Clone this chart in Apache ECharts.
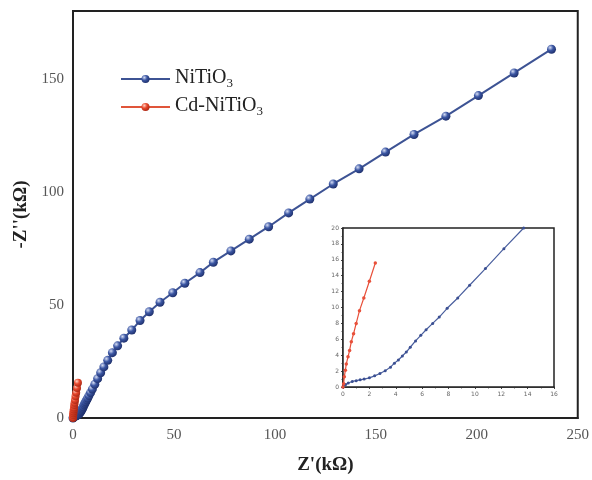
<!DOCTYPE html>
<html>
<head>
<meta charset="utf-8">
<script src="https://cdn.jsdelivr.net/npm/echarts@6/dist/echarts.min.js"></script>
<style>html,body{margin:0;padding:0;background:#fff}#c{width:592px;height:480px}</style>
</head>
<body>
<div id="c"></div>
<script>
// Data (Z' kΩ, -Z'' kΩ)
var seriesNames = ['NiTiO3', 'Cd-NiTiO3'];
var xTicksMain = [0, 50, 100, 150, 200, 250];
var yTicksMain = [0, 50, 100, 150];
var niTiO3 = [
  [0,0],[0.2,0.3],[0.4,0.5],[0.7,0.7],[1.0,0.8],[1.3,0.9],[1.6,1.0],[2.0,1.15],
  [2.4,1.4],[2.8,1.7],[3.2,2.05],[3.6,2.5],[3.9,3.0],[4.2,3.4],[4.5,3.9],[4.8,4.4],
  [5.1,5.0],[5.5,5.8],[5.9,6.5],[6.3,7.2],[6.8,8.0],[7.3,8.8],[7.9,9.9],[8.7,11.2],
  [9.6,12.8],[10.8,14.9],[12.2,17.4],[13.7,20.0],[15.3,22.6],[17.2,25.5],[19.5,28.9],
  [22.1,31.9],[25.2,35.3],[29.1,38.9],[33.2,43.1],[37.8,47.0],[43.1,51.2],[49.4,55.4],
  [55.4,59.6],[62.9,64.3],[69.5,68.9],[78.2,73.9],[87.3,79.1],[96.9,84.6],[106.8,90.7],
  [117.3,96.8],[128.9,103.5],[141.7,110.2],[154.8,117.6],[168.9,125.4],[184.7,133.5],
  [200.8,142.6],[218.5,152.6],[237.0,163.1]
];
var cdNiTiO3 = [
  [0,0],[0.05,0.4],[0.1,1.3],[0.18,2.1],[0.25,2.9],[0.38,3.8],[0.5,4.6],[0.63,5.7],
  [0.8,6.7],[1.0,8.0],[1.25,9.6],[1.58,11.2],[2.0,13.3],[2.45,15.6]
];

var serif = 'Liberation Serif';
function ball(c1, c2, c3) {
  return {type:'radial', x:0.35, y:0.32, r:0.75, colorStops:[
    {offset:0, color:c1},{offset:0.45, color:c2},{offset:1, color:c3}]};
}
var blueBall = ball('#d6def5', '#3b56a3', '#1c2c66');
var redBall = ball('#ffd2c4', '#e8482c', '#a52412');

var chart = echarts.init(document.getElementById('c'));
chart.setOption({
  backgroundColor: '#fff',
  animation: false,
  legend: {
    left: 115, top: 63, orient: 'vertical', itemGap: 6,
    itemWidth: 49, itemHeight: 10,
    data: seriesNames,
    formatter: function (n) {
      return n === 'NiTiO3' ? '{n|NiTiO}{s|3}' : '{n|Cd-NiTiO}{s|3}';
    },
    textStyle: {
      rich: {
        n: {fontFamily: serif, fontSize: 20, color: '#222', lineHeight: 22, verticalAlign:'top'},
        s: {fontFamily: serif, fontSize: 13, color: '#222', lineHeight: 13, verticalAlign: 'top', padding: [9,0,0,0]}
      }
    }
  },
  grid: [
    {left: 73, right: 9, top: 11, bottom: 62, show: true, borderColor: '#222', borderWidth: 2},
    {left: 343, right: 38, top: 228, bottom: 93, show: true, borderColor: '#222', borderWidth: 1.5, backgroundColor:'#fff', z: 5}
  ],
  xAxis: [
    {
      type: 'value', gridIndex: 0, min: 0, max: 250, interval: 50,
      name: "Z'(kΩ)", nameLocation: 'middle', nameGap: 38,
      nameTextStyle: {fontFamily: serif, fontWeight: 'bold', fontSize: 19, color: '#222'},
      axisLine: {show: true, onZero: false, lineStyle: {color: '#222', width: 2}},
      axisTick: {show: false},
      splitLine: {show: false},
      axisLabel: {fontFamily: serif, fontSize: 15, color: '#555', margin: 10}
    },
    {
      type: 'value', gridIndex: 1, min: 0, max: 16, interval: 2,
      axisLine: {show: true, onZero: false, lineStyle: {color: '#222', width: 1.5}},
      axisTick: {show: true, length: 2, lineStyle: {color: '#444'}},
      minorTick: {show: true, splitNumber: 2, length: 1.5, lineStyle: {color: '#666'}},
      splitLine: {show: false},
      axisLabel: {fontFamily: 'DejaVu Sans', fontSize: 6, color: '#666', margin: 4}
    }
  ],
  yAxis: [
    {
      type: 'value', gridIndex: 0, min: 0, max: 180, interval: 50,
      name: "-Z''(kΩ)", nameLocation: 'middle', nameGap: 37,
      nameTextStyle: {fontFamily: serif, fontWeight: 'bold', fontSize: 19, color: '#222'},
      axisLine: {show: true, onZero: false, lineStyle: {color: '#222', width: 2}},
      axisTick: {show: false},
      splitLine: {show: false},
      axisLabel: {fontFamily: serif, fontSize: 15, color: '#555', margin: 9, showMaxLabel: false}
    },
    {
      type: 'value', gridIndex: 1, min: 0, max: 20, interval: 2,
      axisLine: {show: true, onZero: false, lineStyle: {color: '#222', width: 1.5}},
      axisTick: {show: true, length: 2, lineStyle: {color: '#444'}},
      minorTick: {show: true, splitNumber: 2, length: 1.5, lineStyle: {color: '#666'}},
      splitLine: {show: false},
      axisLabel: {fontFamily: 'DejaVu Sans', fontSize: 6, color: '#666', margin: 4}
    }
  ],
  series: [
    {
      name: 'NiTiO3', type: 'line', xAxisIndex: 0, yAxisIndex: 0, data: niTiO3,
      symbol: 'circle', symbolSize: 9, showAllSymbol: true,
      lineStyle: {color: '#3d5394', width: 2},
      itemStyle: {color: blueBall}
    },
    {
      name: 'Cd-NiTiO3', type: 'line', xAxisIndex: 0, yAxisIndex: 0, data: cdNiTiO3,
      symbol: 'circle', symbolSize: 8, showAllSymbol: true,
      lineStyle: {color: '#e0553a', width: 2},
      itemStyle: {color: redBall}
    },
    {
      name: 'NiTiO3', type: 'line', xAxisIndex: 1, yAxisIndex: 1, data: niTiO3, z: 6,
      symbol: 'circle', symbolSize: 3, showAllSymbol: true, clip: true,
      lineStyle: {color: '#4a5f9e', width: 1.2},
      itemStyle: {color: '#3b4f92'}
    },
    {
      name: 'Cd-NiTiO3', type: 'line', xAxisIndex: 1, yAxisIndex: 1, data: cdNiTiO3, z: 6,
      symbol: 'circle', symbolSize: 3.5, showAllSymbol: true, clip: true,
      lineStyle: {color: '#e8503a', width: 1.2},
      itemStyle: {color: '#e8503a'}
    }
  ]
});
</script>
</body>
</html>
